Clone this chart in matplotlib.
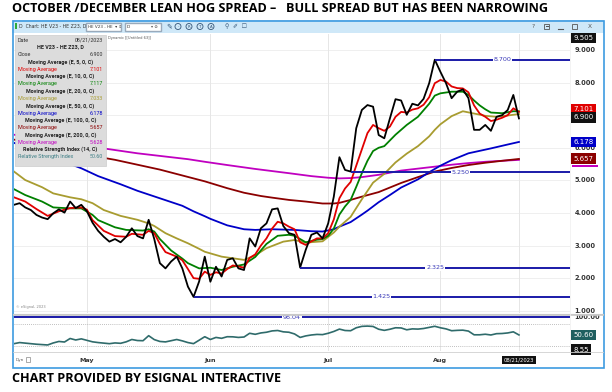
import matplotlib
matplotlib.use("Agg")
import matplotlib.pyplot as plt
from matplotlib.patches import Rectangle, Circle
from matplotlib.transforms import blended_transform_factory as blend
import pandas as pd

W, H = 612, 392

# ---- data ----
holidays = ["2023-05-29", "2023-06-19", "2023-07-04"]
days = pd.bdate_range("2023-04-12", "2023-08-21")
days = days[~days.isin(pd.to_datetime(holidays))]

close = [4.25, 4.30, 4.17, 4.09, 3.94, 3.86, 3.81, 3.99, 4.11, 4.01,
         4.35, 4.15, 4.25, 4.05, 3.70, 3.45, 3.27, 3.12, 3.20, 3.10,
         3.27, 3.53, 3.29, 3.22, 3.79, 3.20, 2.46, 2.30, 2.51, 2.66,
         2.30, 1.74, 1.425, 1.90, 2.66, 1.89, 2.35, 2.05, 2.56, 2.61,
         2.30, 2.25, 3.22, 2.97, 3.53, 3.68, 4.11, 4.14, 3.60, 3.38,
         3.33, 2.325, 2.87, 3.33, 3.40, 3.22, 3.68, 4.50, 5.71, 5.32,
         5.27, 6.60, 7.16, 7.31, 7.26, 6.39, 6.29, 6.90, 7.49, 7.45,
         7.01, 7.35, 7.30, 7.50, 7.98, 8.70, 8.33, 7.98, 7.52, 7.72,
         7.79, 7.52, 6.55, 6.55, 6.70, 6.52, 6.95, 7.00, 7.16, 7.62,
         6.90]

ema5_x = [0, 2, 4, 6, 8, 10, 12, 13, 14, 16, 18, 20, 21, 23, 24, 25, 26, 27, 29, 30,
          31, 32, 33, 34, 35, 36, 37, 38, 39, 40, 41, 42, 43, 44, 45, 46, 47, 48, 49, 50,
          51, 52, 53, 54, 55, 56, 57, 58, 59, 60, 61, 62, 63, 64, 65, 66, 67, 68, 69, 70,
          71, 72, 73, 74, 75, 76, 77, 78, 79, 80, 81, 82, 83, 84, 85, 86, 87, 88, 89, 90]
ema5_y = [4.48, 4.35, 4.12, 3.91, 4.05, 4.15, 4.17, 4.10, 3.78, 3.45, 3.29, 3.27, 3.36, 3.33, 3.45, 3.38, 3.05, 2.80, 2.66, 2.55,
          2.28, 2.00, 1.98, 2.20, 2.10, 2.18, 2.14, 2.28, 2.39, 2.36, 2.32, 2.62, 2.73, 3.00, 3.22, 3.52, 3.73, 3.68, 3.58, 3.50,
          3.10, 3.02, 3.13, 3.22, 3.22, 3.38, 3.80, 4.45, 4.75, 4.95, 5.45, 5.95, 6.45, 6.70, 6.60, 6.52, 6.65, 6.95, 7.10, 7.08,
          7.17, 7.21, 7.32, 7.55, 7.98, 8.08, 8.03, 7.88, 7.83, 7.82, 7.70, 7.30, 7.05, 6.95, 6.82, 6.86, 6.92, 7.00, 7.21, 7.101]

ema10_x = [0, 2, 5, 7, 10, 12, 14, 15, 18, 20, 23, 24, 25, 26, 28, 30, 31, 33, 35, 37,
           39, 41, 43, 45, 47, 49, 50, 52, 54, 55, 56, 57, 58, 59, 60, 61, 62, 63, 64, 65,
           66, 68, 70, 72, 74, 75, 76, 78, 80, 81, 82, 83, 84, 85, 87, 89, 90]
ema10_y = [4.73, 4.55, 4.35, 4.17, 4.14, 4.14, 3.94, 3.78, 3.56, 3.48, 3.46, 3.50, 3.43, 3.20, 2.85, 2.60, 2.46, 2.30, 2.32, 2.25,
           2.35, 2.42, 2.65, 3.05, 3.30, 3.33, 3.30, 3.10, 3.18, 3.20, 3.30, 3.52, 3.95, 4.20, 4.40, 4.80, 5.22, 5.60, 5.90, 6.00,
           6.05, 6.40, 6.70, 6.95, 7.35, 7.60, 7.67, 7.72, 7.72, 7.62, 7.45, 7.30, 7.18, 7.08, 7.06, 7.12, 7.117]

ema20_x = [0, 2, 5, 7, 10, 12, 14, 16, 19, 22, 24, 25, 27, 29, 31, 33, 34, 37, 41, 43,
           45, 48, 50, 52, 55, 57, 58, 60, 62, 64, 66, 68, 70, 72, 74, 75, 76, 78, 80, 82,
           84, 86, 88, 90]
ema20_y = [5.27, 5.01, 4.79, 4.60, 4.48, 4.42, 4.30, 4.09, 3.91, 3.79, 3.68, 3.60, 3.38, 3.22, 3.07, 2.90, 2.81, 2.66, 2.56, 2.70,
           2.92, 3.12, 3.17, 3.09, 3.13, 3.40, 3.58, 3.88, 4.42, 4.93, 5.20, 5.55, 5.82, 6.05, 6.35, 6.55, 6.72, 6.97, 7.12, 7.05,
           6.98, 6.95, 6.99, 7.033]

ema50_x = [0, 5, 10, 12, 15, 19, 22, 26, 30, 32, 34, 35, 38, 41, 43, 46, 50, 53, 55, 57,
           58, 60, 62, 63, 65, 67, 69, 72, 74, 76, 78, 81, 85, 88, 90]
ema50_y = [6.15, 5.85, 5.50, 5.37, 5.13, 4.88, 4.68, 4.45, 4.22, 4.05, 3.90, 3.82, 3.62, 3.50, 3.48, 3.50, 3.48, 3.44, 3.43, 3.50,
           3.58, 3.72, 3.95, 4.07, 4.33, 4.55, 4.78, 5.03, 5.25, 5.45, 5.62, 5.83, 5.98, 6.10, 6.178]

ema100_x = [0, 5, 10, 14, 18, 22, 26, 30, 34, 38, 41, 44, 46, 49, 52, 55, 57, 58, 60, 62,
            65, 67, 69, 72, 75, 78, 81, 84, 87, 90]
ema100_y = [6.25, 6.06, 5.88, 5.75, 5.63, 5.48, 5.33, 5.15, 4.97, 4.76, 4.62, 4.52, 4.47, 4.40, 4.35, 4.29, 4.29, 4.31, 4.40, 4.50,
            4.64, 4.78, 4.92, 5.10, 5.27, 5.38, 5.47, 5.54, 5.60, 5.657]

ema200_x = [0, 5, 10, 14, 18, 22, 27, 31, 34, 38, 43, 49, 53, 56, 58, 60, 62, 65, 69, 72,
            75, 78, 81, 84, 87, 90]
ema200_y = [6.40, 6.27, 6.14, 6.03, 5.93, 5.83, 5.73, 5.65, 5.57, 5.47, 5.35, 5.22, 5.13, 5.08, 5.06, 5.07, 5.10, 5.17, 5.30, 5.36,
            5.42, 5.48, 5.53, 5.57, 5.60, 5.628]

rsi = [27, 30, 28.5, 27, 25.5, 24.5, 23.5, 29, 33, 31.5,
       41, 37, 40, 36, 32, 30, 28.5, 27, 29, 28,
       32, 38.3, 35.5, 35, 48.6, 38, 33, 31.8, 35, 38.3,
       34.6, 30, 27.1, 36.4, 45.8, 38.3, 43.9, 41.5, 45.8, 45.5,
       43.9, 45, 55.1, 52.3, 56, 57.9, 61.5, 62.6, 59, 57.9,
       53.3, 43.9, 48, 50.5, 52, 51.5, 55.1, 60, 66.4, 62.6,
       62, 70, 73.8, 74.5, 73.5, 66, 63, 66, 70, 69.5,
       64.5, 67, 66.4, 68, 71, 74, 70, 67, 62, 63,
       63.5, 61, 51, 51, 52.5, 50.5, 54, 54.5, 56, 59,
       50.6]

# horizontal level lines: (start bar, price, label)
levels = [(75, 8.70, "8.700"), (60, 5.25, "5.250"), (51, 2.325, "2.325"), (32, 1.425, "1.425")]
rsi_level = 98.04

price_ticks = [9, 8, 6, 5, 4, 3, 2, 1]
month_names = ["May", "Jun", "Jul", "Aug"]

ma_colors = ["#e00000", "#008000", "#a89c30", "#0000c8", "#8b0000", "#c000c0"]
info_rows = [
    ("Date", "08/21/2023", "#333333"),
    ("HE V23 - HE Z23, D", None, "#222222"),
    ("Close", "6.900", "#333333"),
    ("Moving Average (E, 5, 0, C)", None, "#222222"),
    ("Moving Average", "7.101", ma_colors[0]),
    ("Moving Average (E, 10, 0, C)", None, "#222222"),
    ("Moving Average", "7.117", ma_colors[1]),
    ("Moving Average (E, 20, 0, C)", None, "#222222"),
    ("Moving Average", "7.033", ma_colors[2]),
    ("Moving Average (E, 50, 0, C)", None, "#222222"),
    ("Moving Average", "6.178", ma_colors[3]),
    ("Moving Average (E, 100, 0, C)", None, "#222222"),
    ("Moving Average", "5.657", ma_colors[4]),
    ("Moving Average (E, 200, 0, C)", None, "#222222"),
    ("Moving Average", "5.628", ma_colors[5]),
    ("Relative Strength Index (14, C)", None, "#222222"),
    ("Relative Strength Index", "50.60", "#3f7f86"),
]

# ---- helpers ----
def px_axes(fig, x0, y0, x1, y1):
    return fig.add_axes([x0 / W, 1 - y1 / H, (x1 - x0) / W, (y1 - y0) / H])

def bare(ax):
    for s in ax.spines.values():
        s.set_visible(False)
    ax.set_xticks([])
    ax.set_yticks([])

fig = plt.figure(figsize=(W / 100, H / 100), dpi=100)
fig.patch.set_facecolor("white")

n = len(close)
xs = list(range(n))
month_idx = []
for m in [5, 6, 7, 8]:
    month_idx.append(int((days.month == m).argmax()))
grid_x = month_idx + [n - 1]
XMAX = 99.1

# ---- price panel ----
ax = px_axes(fig, 14, 33.5, 570, 313)
bare(ax)
ax.set_xlim(0, XMAX)
ax.set_ylim(0.931, 9.505)
for v in range(1, 10):
    ax.axhline(v, color="#ececec", lw=0.6, zorder=0)
for gx in grid_x:
    ax.axvline(gx, color="#e6e6e6", lw=0.7, zorder=0)

series = [(ema200_x, ema200_y, ma_colors[5]), (ema100_x, ema100_y, ma_colors[4]),
          (ema50_x, ema50_y, ma_colors[3]), (ema20_x, ema20_y, ma_colors[2]),
          (ema10_x, ema10_y, ma_colors[1]), (ema5_x, ema5_y, ma_colors[0])]
for mx, my, c in series:
    ax.plot(mx, my, color=c, lw=1.3, zorder=3)
ax.plot(xs, close, color="black", lw=1.3, zorder=4)

for x0, v, lab in levels:
    ax.hlines(v, x0, XMAX, color="#1a1aa8", lw=1.4, zorder=5)
    ax.text((x0 + XMAX) / 2, v, lab, color="#3a3ab8", fontsize=4.6, ha="center", va="center",
            zorder=6, bbox=dict(boxstyle="square,pad=0.1", fc="white", ec="none"))

ax.text(0.3, 1.05, "© eSignal, 2023", fontsize=2.6, color="#888888", va="bottom")
ax.text(16.8, 9.42, "Dynamic [[Untitled 63]]", fontsize=2.6, color="#555555", va="top")

rt = blend(ax.transAxes, ax.transData)
for v in price_ticks:
    ax.text(1.008, v, f"{v:.3f}", transform=rt, fontsize=4.8, fontweight="bold",
            color="#333333", va="center", ha="left", clip_on=False)

def value_box(axis, v, text, fc, ypos=None, tc="white"):
    tr = blend(axis.transAxes, axis.transData)
    axis.text(1.006, v if ypos is None else ypos, text, transform=tr, fontsize=5.0,
              color=tc, va="center", ha="left", clip_on=False, zorder=10,
              bbox=dict(boxstyle="square,pad=0.32", fc=fc, ec="none"))

value_box(ax, 9.505, "9.505", "#111111", ypos=9.37)
# the 200-day box sits almost fully under the 100-day one: only its edge shows
ax.add_patch(Rectangle((1.003, 5.628 - 0.23), 0.047, 0.08, transform=rt, fc=ma_colors[5],
                       ec="none", clip_on=False, zorder=9))
value_box(ax, 5.657, "5.657", ma_colors[4], ypos=5.67)
value_box(ax, 6.178, "6.178", ma_colors[3])
value_box(ax, 7.101, "7.101", ma_colors[0], ypos=7.19)
value_box(ax, 6.900, "6.900", "#111111", ypos=6.93)

# ---- RSI panel ----
rax = px_axes(fig, 14, 315, 570, 350.5)
bare(rax)
rax.set_xlim(0, XMAX)
rax.set_ylim(8.55, 104.5)
for gx in grid_x:
    rax.axvline(gx, color="#e6e6e6", lw=0.7, zorder=0)
for lv in (80, 20):
    rax.axhline(lv, color="#aaaaaa", lw=0.6, ls=(0, (1, 1.5)), zorder=1)
rax.axhline(rsi_level, color="#1a1aa8", lw=1.4, zorder=2)
rax.text(XMAX / 2, rsi_level, f"{rsi_level:.2f}", color="#3a3ab8", fontsize=4.6, ha="center",
         va="center", zorder=6, bbox=dict(boxstyle="square,pad=0.1", fc="white", ec="none"))
rax.plot(xs, rsi, color="#2f6b6b", lw=1.2, zorder=3)
rrt = blend(rax.transAxes, rax.transData)
rax.text(1.008, 100, "100.00", transform=rrt, fontsize=4.8, fontweight="bold",
         color="#333333", va="center", ha="left", clip_on=False)
value_box(rax, rsi[-1], f"{rsi[-1]:.2f}", "#1f5f60")
value_box(rax, 8.55, "8.55", "#111111", ypos=11)

# date labels
dt = blend(rax.transData, rax.transAxes)
for mi, name in zip(month_idx, month_names):
    rax.text(mi, -0.27, name, transform=dt, fontsize=4.6, fontweight="bold",
             color="#333333", ha="center", va="center", clip_on=False)
rax.text(n - 1, -0.27, days[-1].strftime("%m/%d/%Y"), transform=dt, fontsize=3.8,
         color="white", ha="center", va="center", clip_on=False,
         bbox=dict(boxstyle="square,pad=0.3", fc="#111111", ec="none"))

# ---- overlay: window chrome, info box, titles ----
ov = fig.add_axes([0, 0, 1, 1])
ov.set_xlim(0, W)
ov.set_ylim(H, 0)
ov.axis("off")
ov.patch.set_alpha(0)
ov.set_zorder(5)

ov.add_patch(Rectangle((12, 20), 592, 13, fc="#cfe8f8", ec="none"))
ov.add_patch(Rectangle((12.5, 20.5), 591, 347, fill=False, ec="#3d9be0", lw=1.2))
ov.plot([13, 603], [313.5, 313.5], color="#c8c8c8", lw=0.8)
ov.plot([13, 603], [315, 315], color="#c8c8c8", lw=0.6)
ov.plot([13, 603], [351.5, 351.5], color="#d0d0d0", lw=0.6)
ov.plot([570, 570], [33, 351], color="#eeeeee", lw=0.5)

# toolbar
ov.add_patch(Rectangle((15, 23), 2.2, 6, fc="#2faa3a", ec="none"))
ov.text(19, 26.5, "D  Chart: HE V23 - HE Z23, D", fontsize=3.3, color="#333333", va="center")
ov.add_patch(Rectangle((86, 22.5), 35, 8, fc="white", ec="#99aabb"))
ov.text(88, 26.5, "HE V23 - HE  ▾ ⇕", fontsize=3.0, color="#333333", va="center")
ov.add_patch(Rectangle((125, 22.5), 36, 8, fc="white", ec="#99aabb"))
ov.text(127, 26.5, "D", fontsize=3.2, color="#333333", va="center")
ov.text(151, 26.5, "▾ ⊘", fontsize=3.0, color="#555555", va="center")
ov.text(166, 26.5, "✎", fontsize=5, color="#335577", va="center")
for k, ch in enumerate(["-", "R", "T", "A"]):
    cx = 178 + k * 11
    ov.add_patch(Circle((cx, 26.5), 3.0, fill=False, ec="#335577", lw=0.6))
    ov.text(cx, 26.6, ch, fontsize=2.8, color="#335577", ha="center", va="center")
ov.text(225, 26.5, "⚲  ✐  ☐", fontsize=4.2, color="#335577", va="center")
# window buttons
ov.text(533, 26.5, "?", fontsize=4.2, color="#555555", va="center", ha="center")
ov.add_patch(Rectangle((544, 24), 5, 5, fill=False, ec="#555555", lw=0.6))
ov.add_patch(Rectangle((545.5, 25.5), 3.5, 1.2, fc="#555555", ec="none"))
ov.plot([558, 563], [29, 29], color="#555555", lw=0.8)
ov.add_patch(Rectangle((572, 24), 5, 5, fill=False, ec="#555555", lw=0.6))
ov.text(590, 26.5, "X", fontsize=4.2, color="#555555", va="center", ha="center")

# info box
ov.add_patch(Rectangle((15, 35), 91, 131, fc="#dcdcdc", ec="#cccccc", lw=0.5, zorder=8))
step = 7.3
for r, (lab, val, col) in enumerate(info_rows):
    y = 40 + r * step
    if val is None:
        ov.text(60.5, y, lab, fontsize=3.9, fontweight="bold", color=col,
                family=["Roboto", "DejaVu Sans"], ha="center", va="center", zorder=9)
    else:
        ov.text(18, y, lab, fontsize=3.9, color=col, family=["Roboto", "DejaVu Sans"],
                ha="left", va="center", zorder=9)
        ov.text(103, y, val, fontsize=3.9, color=col, family=["Roboto", "DejaVu Sans"],
                ha="right", va="center", zorder=9)

ov.text(16, 360, "Dyn", fontsize=3, color="#555555", va="center")
ov.add_patch(Rectangle((26, 357), 3.5, 5, fill=False, ec="#888888", lw=0.5))

fig.text(12 / W, 1 - 9 / H,
         "OCTOBER /DECEMBER LEAN HOG SPREAD –   BULL SPREAD BUT HAS BEEN NARROWING",
         fontsize=9.1, fontweight="bold", family=["Open Sans", "DejaVu Sans"],
         ha="left", va="center")
fig.text(12 / W, 1 - 379 / H, "CHART PROVIDED BY ESIGNAL INTERACTIVE",
         fontsize=9.1, fontweight="bold", family=["Open Sans", "DejaVu Sans"],
         ha="left", va="center")

fig.savefig("out.png", dpi=100)
